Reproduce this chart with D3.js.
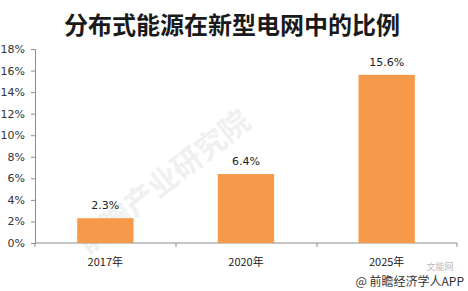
<!DOCTYPE html>
<html>
<head>
<meta charset="utf-8">
<script src="https://cdn.jsdelivr.net/npm/d3@7"></script>
<style>
  body { margin: 0; background: #fff; }
  svg { display: block; }
</style>
</head>
<body>
<div id="chart"></div>
<script>
// data
const years = ["2017年", "2020年", "2025年"]
const shares = [2.3, 6.4, 15.6]
const yTicks = [0, 2, 4, 6, 8, 10, 12, 14, 16, 18]

const width = 468
const height = 291

const svg = d3
  .select("#chart")
  .append("svg")
  .attr("width", width)
  .attr("height", height)

// faint watermark
svg
  .append("text")
  .attr("transform", "translate(170,190) rotate(-38)")
  .attr("text-anchor", "middle")
  .style("font-family", "Noto Sans CJK SC")
  .style("font-size", 30)
  .style("font-weight", "bold")
  .style("fill", "#f0f0f0")
  .text("前瞻产业研究院")

svg
  .append("text")
  .attr("x", 232)
  .attr("y", 34)
  .attr("text-anchor", "middle")
  .style("font-family", "Noto Sans CJK SC")
  .style("font-weight", "bold")
  .style("font-size", 24)
  .style("fill", "#1a1a1a")
  .text("分布式能源在新型电网中的比例")

const x = d3.scaleBand().domain(years).range([35, 457]).paddingInner(0.6).paddingOuter(0.3)
const y = d3.scaleLinear().domain([0, 18]).range([243, 49])

// y axis
const yAxis = svg
  .append("g")
  .attr("transform", "translate(35,0)")
  .call(
    d3.axisLeft(y)
      .tickValues(yTicks)
      .tickFormat((d) => d + "%")
      .tickSize(4)
      .tickPadding(6)
  )
yAxis.selectAll("path, line").attr("stroke", "#8c8c8c")
yAxis
  .selectAll("text")
  .style("font-family", "DejaVu Sans")
  .style("font-size", 11)
  .style("fill", "#333")

// x axis
const bounds = [35, 176, 317, 457]
const xAxis = svg.append("g").attr("transform", "translate(0,243)")
xAxis
  .append("line")
  .attr("x1", 35)
  .attr("x2", 457)
  .attr("stroke", "#8c8c8c")
xAxis
  .selectAll(".sep")
  .data(bounds)
  .join("line")
  .attr("class", "sep")
  .attr("x1", (d) => d)
  .attr("x2", (d) => d)
  .attr("y1", 0)
  .attr("y2", 4)
  .attr("stroke", "#8c8c8c")
xAxis
  .selectAll(".lbl")
  .data(years)
  .join("text")
  .attr("class", "lbl")
  .attr("x", (d) => x(d) + x.bandwidth() / 2)
  .attr("y", 23)
  .attr("text-anchor", "middle")
  .style("font-family", "Noto Sans CJK SC")
  .style("font-size", 11)
  .style("fill", "#222")
  .text((d) => d)

// bars
svg
  .selectAll(".bar")
  .data(shares)
  .join("rect")
  .attr("class", "bar")
  .attr("x", (d, i) => x(years[i]))
  .attr("y", (d) => y(d))
  .attr("width", x.bandwidth())
  .attr("height", (d) => y(0) - y(d))
  .style("fill", "#f7994a")

svg
  .selectAll(".val")
  .data(shares)
  .join("text")
  .attr("class", "val")
  .attr("x", (d, i) => x(years[i]) + x.bandwidth() / 2)
  .attr("y", (d) => y(d) - 9)
  .attr("text-anchor", "middle")
  .style("font-family", "DejaVu Sans")
  .style("font-size", 11)
  .style("fill", "#222")
  .text((d) => d + "%")

// source marks
svg
  .append("text")
  .attr("x", 440)
  .attr("y", 270)
  .attr("text-anchor", "middle")
  .style("font-family", "Noto Sans CJK SC")
  .style("font-size", 9)
  .style("fill", "#bbb")
  .text("文能网")

svg
  .append("text")
  .attr("x", 464)
  .attr("y", 286)
  .attr("text-anchor", "end")
  .style("font-family", "Noto Sans CJK SC")
  .style("font-size", 12)
  .style("fill", "#333")
  .text("@ 前瞻经济学人APP")
</script>
</body>
</html>
